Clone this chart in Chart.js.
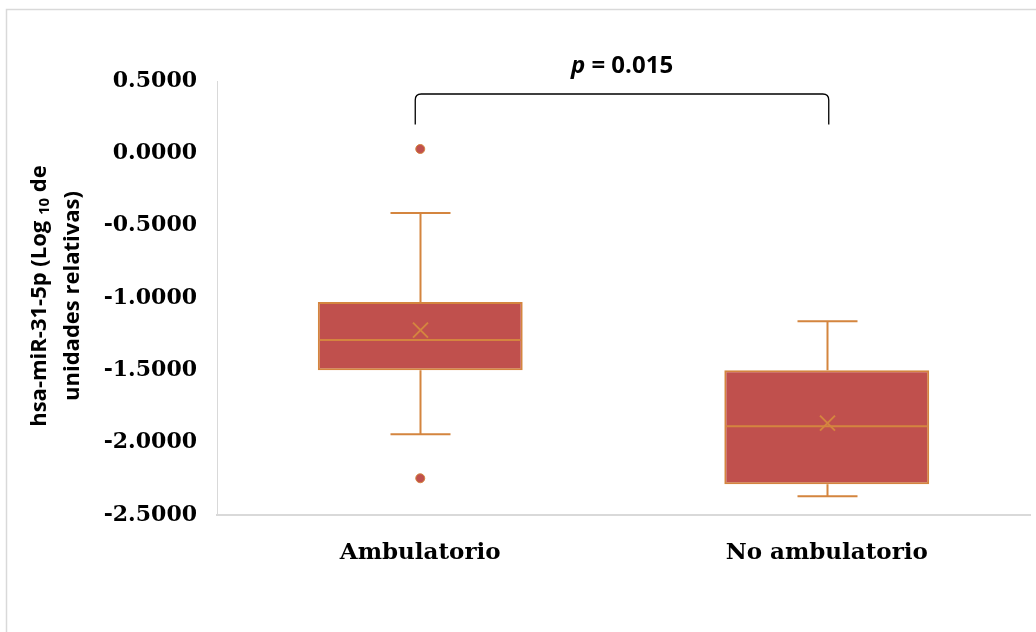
<!DOCTYPE html>
<html>
<head>
<meta charset="utf-8">
<script src="https://cdn.jsdelivr.net/npm/chart.js@4.4.1/dist/chart.umd.min.js"></script>
<style>
  html, body { margin: 0; padding: 0; background: #fff; }
  #wrap { width: 1036px; height: 632px; }
</style>
</head>
<body>
<div id="wrap"><canvas id="chart"></canvas></div>
<script>
// datos
const categories = ['Ambulatorio', 'No ambulatorio'];
const q1 = [-1.500, -2.287];
const q3 = [-1.028, -1.500];
const medians = [-1.291, -1.886];
const means = [-1.222, -1.865];
const whiskerLow = [-1.941, -2.370];
const whiskerHigh = [-0.413, -1.160];
const outlierCats = ['Ambulatorio', 'Ambulatorio'];
const outlierVals = [0.030, -2.246];
const yMin = -2.5, yMax = 0.5, yStep = 0.5;
const pText = '= 0.015';

const BOX_FILL = '#C0504D';
const BOX_LINE = '#D4853F';

// marco gris alrededor
const framePlugin = {
  id: 'frame',
  beforeDraw(chart) {
    const ctx = chart.ctx;
    ctx.save();
    ctx.strokeStyle = '#D9D9D9';
    ctx.lineWidth = 1.5;
    ctx.beginPath();
    ctx.moveTo(6.5, chart.height);
    ctx.lineTo(6.5, 9.5);
    ctx.lineTo(chart.width, 9.5);
    ctx.stroke();
    ctx.restore();
  }
};

// bigotes, mediana y media
const boxPlugin = {
  id: 'boxExtras',
  afterDatasetsDraw(chart) {
    const ctx = chart.ctx;
    const y = chart.scales.y;
    const bars = chart.getDatasetMeta(0).data;
    ctx.save();
    ctx.strokeStyle = BOX_LINE;
    ctx.lineWidth = 2;
    bars.forEach((bar, i) => {
      const cx = Math.round(bar.x) + 0.5;
      const half = bar.width / 2;
      const cap = 30;
      const yTop = y.getPixelForValue(q3[i]);
      const yBot = y.getPixelForValue(q1[i]);
      const yHi = y.getPixelForValue(whiskerHigh[i]);
      const yLo = y.getPixelForValue(whiskerLow[i]);
      ctx.beginPath();
      ctx.moveTo(cx, yTop); ctx.lineTo(cx, yHi);
      ctx.moveTo(cx - cap, yHi); ctx.lineTo(cx + cap, yHi);
      ctx.moveTo(cx, yBot); ctx.lineTo(cx, yLo);
      ctx.moveTo(cx - cap, yLo); ctx.lineTo(cx + cap, yLo);
      const ym = y.getPixelForValue(medians[i]);
      ctx.moveTo(bar.x - half + 2, ym); ctx.lineTo(bar.x + half - 2, ym);
      ctx.stroke();
      // media (x)
      const yx = y.getPixelForValue(means[i]);
      const s = 7.5;
      ctx.beginPath();
      ctx.moveTo(cx - s, yx - s); ctx.lineTo(cx + s, yx + s);
      ctx.moveTo(cx + s, yx - s); ctx.lineTo(cx - s, yx + s);
      ctx.stroke();
    });
    ctx.restore();
  }
};

// llave y valor p
const bracketPlugin = {
  id: 'bracket',
  afterDraw(chart) {
    const ctx = chart.ctx;
    const x = chart.scales.x, y = chart.scales.y;
    const x1 = x.getPixelForValue(0) - 5;
    const x2 = x.getPixelForValue(1) + 2;
    const yt = y.getPixelForValue(0.41);
    const yb = y.getPixelForValue(0.20);
    const r = 6;
    ctx.save();
    ctx.strokeStyle = '#000';
    ctx.lineWidth = 1.3;
    ctx.beginPath();
    ctx.moveTo(x1, yb);
    ctx.lineTo(x1, yt + r);
    ctx.quadraticCurveTo(x1, yt, x1 + r, yt);
    ctx.lineTo(x2 - r, yt);
    ctx.quadraticCurveTo(x2, yt, x2, yt + r);
    ctx.lineTo(x2, yb);
    ctx.stroke();

    const cx = (x1 + x2) / 2;
    ctx.fillStyle = '#000';
    ctx.textBaseline = 'alphabetic';
    ctx.font = 'italic bold 24px "Open Sans"';
    const wp = ctx.measureText('p ').width;
    ctx.font = 'bold 24px "Open Sans"';
    const wr = ctx.measureText(pText).width;
    const startX = cx - (wp + wr) / 2;
    const base = 73;
    ctx.font = 'italic bold 24px "Open Sans"';
    ctx.fillText('p ', startX, base);
    ctx.font = 'bold 24px "Open Sans"';
    ctx.fillText(pText, startX + wp, base);
    ctx.restore();
  }
};

// titulo del eje y con subindice
const yTitlePlugin = {
  id: 'yTitle',
  afterDraw(chart) {
    const ctx = chart.ctx;
    const cy = 296;
    const main = 'bold 22px "Open Sans"';
    const sub = 'bold 15px "Open Sans"';
    ctx.save();
    ctx.fillStyle = '#000';
    ctx.textBaseline = 'middle';
    ctx.translate(0, cy);
    ctx.rotate(-Math.PI / 2);
    // linea 1
    const parts = [['hsa-miR-31-5p (Log ', main, 0], ['10', sub, 5], [' de', main, 0]];
    let total = 0;
    parts.forEach(p => { ctx.font = p[1]; total += ctx.measureText(p[0]).width; });
    let px = -total / 2;
    parts.forEach(p => {
      ctx.font = p[1];
      ctx.fillText(p[0], px, 40 + p[2]);
      px += ctx.measureText(p[0]).width;
    });
    // linea 2
    ctx.font = main;
    ctx.textAlign = 'center';
    ctx.fillText('unidades relativas)', 0, 73);
    ctx.restore();
  }
};

new Chart(document.getElementById('chart').getContext('2d'), {
  data: {
    labels: categories,
    datasets: [
      {
        type: 'bar',
        data: categories.map((c, i) => [q1[i], q3[i]]),
        backgroundColor: BOX_FILL,
        borderColor: BOX_LINE,
        borderWidth: 2,
        borderSkipped: false,
        barPercentage: 0.504,
        categoryPercentage: 1.0,
        order: 2
      },
      {
        type: 'line',
        data: outlierCats.map((c, i) => ({ x: c, y: outlierVals[i] })),
        showLine: false,
        pointRadius: 4.5,
        pointBackgroundColor: BOX_FILL,
        pointBorderColor: BOX_LINE,
        pointBorderWidth: 1,
        order: 1
      }
    ]
  },
  options: {
    responsive: true,
    maintainAspectRatio: false,
    animation: false,
    layout: { padding: { top: 81, right: 6, bottom: 0, left: 0 } },
    plugins: {
      legend: { display: false },
      tooltip: { enabled: false }
    },
    scales: {
      x: {
        type: 'category',
        grid: { display: false, drawTicks: false },
        border: { display: true, color: '#D9D9D9', width: 2 },
        ticks: {
          padding: 24,
          color: '#000',
          font: { family: '"DejaVu Serif"', weight: 'bold', size: 23 }
        },
        afterFit(scale) { scale.height = 117; }
      },
      y: {
        min: yMin,
        max: yMax,
        grid: { display: false, drawTicks: false },
        border: { display: true, color: '#D9D9D9', width: 1 },
        ticks: {
          stepSize: yStep,
          padding: 20,
          color: '#000',
          font: { family: '"DejaVu Serif"', weight: 'bold', size: 22 },
          callback: v => Number(v).toFixed(4)
        },
        afterFit(scale) { scale.width = 217; }
      }
    }
  },
  plugins: [framePlugin, boxPlugin, bracketPlugin, yTitlePlugin]
});
</script>
</body>
</html>
